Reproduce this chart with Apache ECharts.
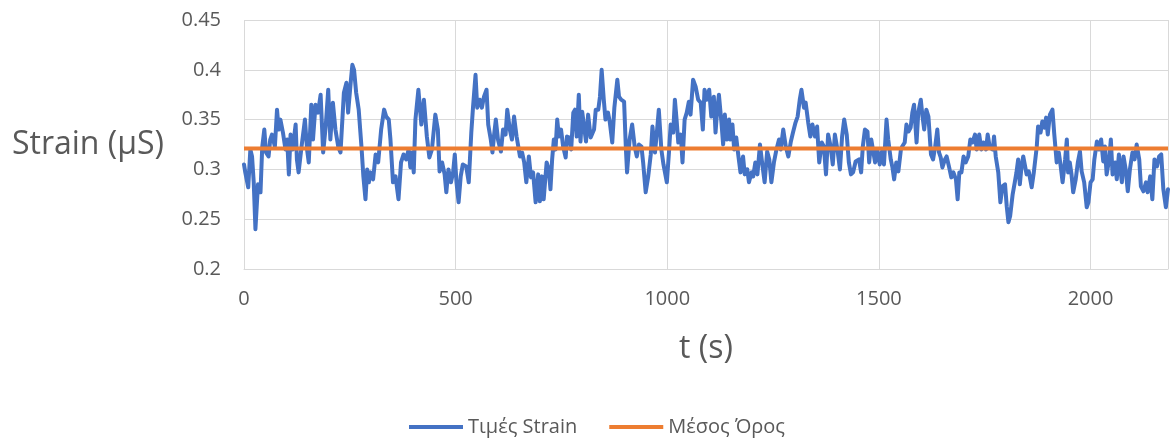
<!DOCTYPE html>
<html>
<head>
<meta charset="utf-8">
<script src="https://cdn.jsdelivr.net/npm/echarts@6/dist/echarts.min.js"></script>
<style>
  html, body { margin: 0; padding: 0; background: #fff; }
  #chart { width: 1170px; height: 439px; }
</style>
</head>
<body>
<div id="chart"></div>
<script>
// time (s) of each strain sample
const times = [
  0, 3, 10, 15, 19, 23, 27, 33, 39, 43, 48, 52, 58, 62, 66, 73, 78, 82, 86, 92,
  98, 102, 106, 110, 115, 122, 125, 129, 136, 144, 149, 153, 159, 163, 169, 175, 181, 187, 193, 199,
  204, 210, 216, 223, 228, 236, 242, 246, 252, 256, 260, 265, 271, 278, 282, 287, 291, 295, 299, 305,
  311, 317, 324, 331, 336, 342, 346, 352, 358, 365, 371, 377, 383, 389, 393, 397, 401, 405, 412, 419,
  425, 432, 438, 444, 452, 458, 462, 468, 474, 478, 483, 489, 494, 498, 502, 507, 512, 517, 525, 531,
  537, 541, 547, 551, 557, 562, 567, 573, 577, 583, 587, 591, 595, 600, 607, 612, 618, 622, 628, 633,
  638, 644, 652, 657, 662, 667, 673, 678, 683, 689, 695, 699, 704, 708, 715, 720, 724, 728, 732, 736,
  740, 744, 749, 754, 760, 763, 769, 773, 778, 782, 786, 791, 795, 799, 803, 808, 813, 819, 823, 827,
  831, 837, 841, 845, 850, 854, 860, 864, 870, 875, 882, 886, 891, 898, 902, 905, 911, 917, 923, 928,
  933, 939, 943, 949, 955, 961, 965, 971, 976, 980, 986, 991, 999, 1004, 1008, 1014, 1018, 1022, 1026, 1032,
  1036, 1041, 1046, 1051, 1055, 1061, 1067, 1073, 1079, 1084, 1088, 1094, 1099, 1104, 1110, 1114, 1118, 1122, 1128, 1132,
  1136, 1141, 1146, 1149, 1154, 1158, 1163, 1167, 1173, 1179, 1183, 1189, 1193, 1199, 1203, 1208, 1213, 1219, 1224, 1230,
  1236, 1241, 1246, 1252, 1258, 1264, 1268, 1274, 1280, 1286, 1292, 1297, 1303, 1308, 1313, 1317, 1323, 1327, 1333, 1338,
  1343, 1349, 1354, 1359, 1365, 1370, 1375, 1380, 1386, 1391, 1396, 1402, 1408, 1413, 1418, 1424, 1429, 1434, 1439, 1445,
  1453, 1458, 1462, 1467, 1473, 1477, 1482, 1487, 1491, 1496, 1502, 1507, 1512, 1518, 1522, 1528, 1532, 1536, 1541, 1546,
  1552, 1555, 1561, 1565, 1570, 1575, 1579, 1583, 1589, 1593, 1599, 1603, 1607, 1612, 1617, 1623, 1628, 1633, 1638, 1642,
  1646, 1650, 1656, 1660, 1666, 1671, 1676, 1682, 1686, 1690, 1695, 1700, 1705, 1711, 1716, 1721, 1727, 1731, 1737, 1742,
  1747, 1753, 1757, 1762, 1769, 1772, 1776, 1782, 1787, 1792, 1798, 1802, 1806, 1810, 1816, 1821, 1825, 1829, 1833, 1837,
  1841, 1845, 1849, 1854, 1861, 1866, 1873, 1876, 1882, 1886, 1891, 1895, 1899, 1904, 1910, 1914, 1920, 1925, 1929, 1934,
  1940, 1944, 1947, 1951, 1955, 1959, 1965, 1970, 1975, 1979, 1985, 1991, 1995, 2000, 2005, 2009, 2015, 2020, 2025, 2030,
  2034, 2038, 2044, 2048, 2052, 2058, 2062, 2067, 2074, 2078, 2083, 2088, 2093, 2099, 2104, 2109, 2115, 2119, 2125, 2131,
  2135, 2141, 2146, 2151, 2157, 2162, 2167, 2172, 2178, 2183
];

// strain values (μS), one per time above
const strain = [
  0.305, 0.297, 0.282, 0.320, 0.313, 0.287, 0.240, 0.285, 0.277, 0.322, 0.340, 0.317, 0.313, 0.330, 0.335, 0.323, 0.360, 0.340, 0.350, 0.337,
  0.320, 0.330, 0.295, 0.335, 0.320, 0.345, 0.310, 0.297, 0.323, 0.350, 0.320, 0.307, 0.365, 0.330, 0.365, 0.357, 0.375, 0.317, 0.343, 0.380,
  0.330, 0.367, 0.340, 0.322, 0.317, 0.377, 0.387, 0.357, 0.387, 0.405, 0.400, 0.377, 0.360, 0.320, 0.293, 0.270, 0.300, 0.287, 0.297, 0.290,
  0.315, 0.307, 0.340, 0.360, 0.353, 0.350, 0.330, 0.287, 0.293, 0.270, 0.307, 0.315, 0.310, 0.320, 0.302, 0.317, 0.297, 0.350, 0.380, 0.345,
  0.370, 0.333, 0.312, 0.320, 0.355, 0.340, 0.298, 0.307, 0.295, 0.277, 0.300, 0.287, 0.297, 0.315, 0.287, 0.267, 0.293, 0.305, 0.303, 0.287,
  0.337, 0.362, 0.395, 0.362, 0.370, 0.362, 0.373, 0.380, 0.345, 0.330, 0.317, 0.335, 0.350, 0.330, 0.318, 0.340, 0.335, 0.360, 0.340, 0.330,
  0.353, 0.333, 0.313, 0.317, 0.307, 0.287, 0.313, 0.292, 0.297, 0.267, 0.295, 0.268, 0.293, 0.270, 0.307, 0.300, 0.280, 0.310, 0.330, 0.320,
  0.350, 0.333, 0.340, 0.323, 0.312, 0.333, 0.332, 0.320, 0.357, 0.360, 0.333, 0.375, 0.328, 0.358, 0.357, 0.328, 0.355, 0.332, 0.330, 0.340,
  0.360, 0.360, 0.373, 0.400, 0.370, 0.350, 0.357, 0.348, 0.327, 0.362, 0.390, 0.373, 0.370, 0.368, 0.323, 0.297, 0.330, 0.345, 0.323, 0.313,
  0.325, 0.323, 0.307, 0.277, 0.293, 0.315, 0.343, 0.317, 0.340, 0.360, 0.320, 0.305, 0.287, 0.317, 0.345, 0.337, 0.370, 0.350, 0.327, 0.335,
  0.307, 0.350, 0.357, 0.368, 0.355, 0.390, 0.383, 0.370, 0.367, 0.340, 0.380, 0.370, 0.380, 0.353, 0.373, 0.337, 0.360, 0.375, 0.347, 0.325,
  0.355, 0.330, 0.350, 0.330, 0.345, 0.320, 0.332, 0.317, 0.297, 0.313, 0.295, 0.300, 0.287, 0.297, 0.293, 0.307, 0.295, 0.325, 0.307, 0.287,
  0.318, 0.310, 0.287, 0.307, 0.320, 0.330, 0.320, 0.340, 0.323, 0.313, 0.328, 0.337, 0.347, 0.353, 0.370, 0.380, 0.362, 0.367, 0.347, 0.333,
  0.345, 0.333, 0.343, 0.307, 0.327, 0.323, 0.295, 0.335, 0.323, 0.305, 0.335, 0.320, 0.300, 0.333, 0.350, 0.335, 0.307, 0.295, 0.297, 0.308,
  0.310, 0.297, 0.323, 0.340, 0.338, 0.307, 0.330, 0.317, 0.307, 0.320, 0.305, 0.318, 0.305, 0.350, 0.330, 0.310, 0.302, 0.290, 0.307, 0.298,
  0.320, 0.323, 0.327, 0.345, 0.338, 0.342, 0.357, 0.365, 0.327, 0.357, 0.370, 0.353, 0.340, 0.360, 0.353, 0.315, 0.310, 0.323, 0.340, 0.317,
  0.312, 0.302, 0.310, 0.313, 0.302, 0.292, 0.297, 0.290, 0.270, 0.297, 0.297, 0.313, 0.307, 0.313, 0.330, 0.327, 0.335, 0.320, 0.335, 0.320,
  0.327, 0.320, 0.335, 0.322, 0.320, 0.333, 0.313, 0.297, 0.267, 0.283, 0.285, 0.263, 0.247, 0.253, 0.275, 0.287, 0.297, 0.310, 0.285, 0.303,
  0.313, 0.315, 0.295, 0.298, 0.282, 0.297, 0.323, 0.343, 0.337, 0.348, 0.342, 0.352, 0.335, 0.355, 0.360, 0.337, 0.307, 0.317, 0.305, 0.287,
  0.310, 0.330, 0.297, 0.307, 0.295, 0.277, 0.290, 0.307, 0.318, 0.298, 0.287, 0.262, 0.267, 0.287, 0.290, 0.310, 0.328, 0.320, 0.330, 0.308,
  0.323, 0.295, 0.310, 0.330, 0.295, 0.307, 0.290, 0.315, 0.287, 0.313, 0.300, 0.278, 0.300, 0.317, 0.310, 0.325, 0.310, 0.283, 0.278, 0.287,
  0.277, 0.293, 0.270, 0.310, 0.303, 0.313, 0.315, 0.280, 0.262, 0.280
];

const meanStrain = 0.321;
const yTicks = [0.2, 0.25, 0.3, 0.35, 0.4, 0.45];
const xTicks = [0, 500, 1000, 1500, 2000];
const tMax = 2183;

const textColor = '#595959';
const font = '"Open Sans", sans-serif';

const chart = echarts.init(document.getElementById('chart'), null, { renderer: 'canvas' });

const strainData = times.map((t, i) => [t, strain[i]]);
const meanData = [[0, meanStrain], [tMax, meanStrain]];

const option = {
  backgroundColor: '#ffffff',
  animation: false,
  textStyle: { fontFamily: font },
  grid: {
    left: 244,
    right: 2,
    top: 20,
    bottom: 170,
    containLabel: false
  },
  legend: {
    left: 404,
    top: 412,
    icon: 'rect',
    itemWidth: 54,
    itemHeight: 4,
    itemGap: 32,
    textStyle: { color: textColor, fontSize: 20, fontFamily: font },
    data: ['Τιμές Strain', 'Μέσος Όρος']
  },
  xAxis: {
    type: 'value',
    min: 0,
    max: tMax,
    interval: 500,
    name: 't (s)',
    nameLocation: 'middle',
    nameGap: 64,
    nameTextStyle: { color: textColor, fontSize: 32, fontFamily: font },
    axisLine: { show: true, lineStyle: { color: '#d9d9d9', width: 1 } },
    axisTick: { show: false },
    axisLabel: {
      color: textColor,
      fontSize: 20,
      fontFamily: font,
      margin: 20,
      showMaxLabel: false,
      formatter: v => (xTicks.includes(v) ? String(v) : '')
    },
    splitLine: { show: true, lineStyle: { color: '#d9d9d9', width: 1 } }
  },
  yAxis: {
    type: 'value',
    min: 0.2,
    max: 0.45,
    interval: 0.05,
    name: 'Strain (μS)',
    nameLocation: 'middle',
    nameRotate: 0,
    nameGap: 80,
    nameTextStyle: { color: textColor, fontSize: 32, fontFamily: font, align: 'right' },
    axisLine: { show: false },
    axisTick: { show: false },
    axisLabel: {
      color: textColor,
      fontSize: 20,
      fontFamily: font,
      margin: 23,
      formatter: v => {
        const t = yTicks.find(y => Math.abs(y - v) < 1e-6);
        return t === undefined ? '' : String(t);
      }
    },
    splitLine: { show: true, lineStyle: { color: '#d9d9d9', width: 1 } }
  },
  series: [
    {
      name: 'Τιμές Strain',
      type: 'line',
      data: strainData,
      symbol: 'none',
      lineStyle: { color: '#4472c4', width: 4, join: 'round', cap: 'round' },
      itemStyle: { color: '#4472c4' },
      z: 2
    },
    {
      name: 'Μέσος Όρος',
      type: 'line',
      data: meanData,
      symbol: 'none',
      lineStyle: { color: '#ed7d31', width: 4 },
      itemStyle: { color: '#ed7d31' },
      z: 3
    }
  ]
};

chart.setOption(option);
</script>
</body>
</html>
